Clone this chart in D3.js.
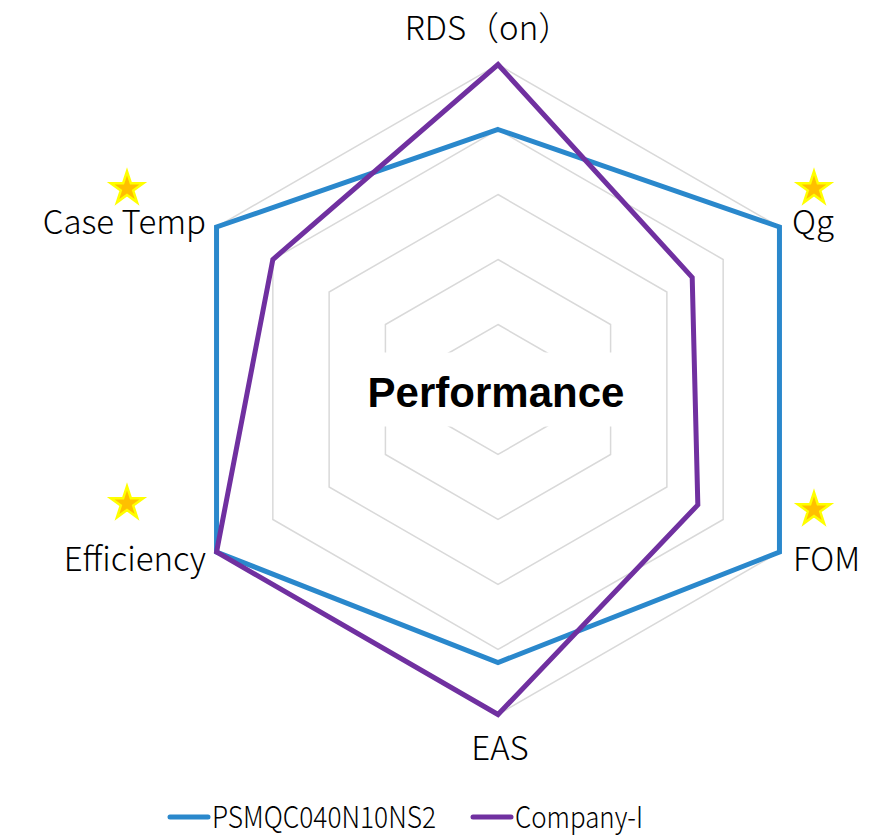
<!DOCTYPE html>
<html>
<head>
<meta charset="utf-8">
<script src="https://cdn.jsdelivr.net/npm/d3@7"></script>
<style>
  body { margin: 0; background: #fff; }
  svg { display: block; }
  .axis-label { font-family: "Noto Sans CJK SC", "Noto Sans", sans-serif; font-weight: 300; font-size: 33px; fill: #000; }
  .legend-label { font-family: "Noto Sans CJK SC", "Noto Sans", sans-serif; font-weight: 300; font-size: 30px; fill: #000; }
  .title { font-family: "Liberation Sans", Arial, sans-serif; font-weight: bold; font-size: 42px; fill: #000; }
</style>
</head>
<body>
<div id="chart"></div>
<script>
// axes, clockwise from the top
const axes = ['RDS（on）', 'Qg', 'FOM', 'EAS', 'Efficiency', 'Case Temp'];
const starred = ['Qg', 'FOM', 'Efficiency', 'Case Temp'];
const seriesNames = ['PSMQC040N10NS2', 'Company-I'];
const psmValues = [0.8, 1, 1, 0.84, 1, 1];
const companyValues = [1, 0.69, 0.71, 1, 1, 0.8];
const gridLevels = [0.2, 0.4, 0.6, 0.8, 1];
const colors = ['#2A88CC', '#7030A0'];

const width = 886, height = 838;
const cx = 498, cy = 389.5, radius = 325;

const svg = d3.select('#chart').append('svg')
  .attr('width', width)
  .attr('height', height);

const r = d3.scaleLinear().domain([0, 1]).range([0, radius]);
const angle = d3.scaleLinear().domain([0, axes.length]).range([0, 2 * Math.PI]);

const g = svg.append('g').attr('transform', `translate(${cx},${cy})`);

const radialLine = d3.lineRadial()
  .angle((d, i) => angle(i))
  .radius(d => r(d))
  .curve(d3.curveLinearClosed);

// grid hexagons
g.append('g').attr('class', 'grid')
  .selectAll('path')
  .data(gridLevels)
  .join('path')
  .attr('d', lv => radialLine(axes.map(() => lv)))
  .attr('fill', 'none')
  .attr('stroke', '#D9D9D9')
  .attr('stroke-width', 1.5);

// title box in the middle
g.append('rect')
  .attr('x', -136).attr('y', -37)
  .attr('width', 268).attr('height', 74)
  .attr('fill', '#fff');
g.append('text')
  .attr('class', 'title')
  .attr('x', -2).attr('y', 17)
  .attr('text-anchor', 'middle')
  .text('Performance');

// series
const series = [psmValues, companyValues];
g.append('g').attr('class', 'series')
  .selectAll('path')
  .data(series)
  .join('path')
  .attr('d', d => radialLine(d))
  .attr('fill', 'none')
  .attr('stroke', (d, i) => colors[i])
  .attr('stroke-width', 5)
  .attr('stroke-linejoin', 'miter');

// axis labels
const labelPos = {
  'RDS（on）': { x: -10, y: -350, anchor: 'middle' },
  'Qg': { x: 294, y: -156, anchor: 'start' },
  'FOM': { x: 295, y: 181, anchor: 'start' },
  'EAS': { x: 2, y: 370, anchor: 'middle' },
  'Efficiency': { x: -292, y: 181, anchor: 'end' },
  'Case Temp': { x: -292, y: -156, anchor: 'end' }
};
g.append('g').attr('class', 'labels')
  .selectAll('text')
  .data(axes)
  .join('text')
  .attr('class', 'axis-label')
  .attr('x', d => labelPos[d].x)
  .attr('y', d => labelPos[d].y)
  .attr('text-anchor', d => labelPos[d].anchor)
  .text(d => d);

// stars
const starPos = {
  'Qg': [316, -201],
  'FOM': [316, 120],
  'Efficiency': [-371, 114],
  'Case Temp': [-371, -201]
};
const star = d3.symbol().type(d3.symbolStar).size(330);
g.append('g').attr('class', 'stars')
  .selectAll('path')
  .data(starred)
  .join('path')
  .attr('d', star)
  .attr('transform', d => `translate(${starPos[d][0]},${starPos[d][1]})`)
  .attr('fill', '#FFC000')
  .attr('stroke', '#FFFF00')
  .attr('stroke-width', 2.5);

// legend
const legend = svg.append('g').attr('class', 'legend')
  .attr('transform', 'translate(0,817)');
const legendX = [168, 471];
const legendW = [224, 128];
const items = legend.selectAll('g')
  .data(seriesNames)
  .join('g')
  .attr('transform', (d, i) => `translate(${legendX[i]},0)`);
items.append('line')
  .attr('x1', 2).attr('x2', 40)
  .attr('y1', 0).attr('y2', 0)
  .attr('stroke', (d, i) => colors[i])
  .attr('stroke-width', 5)
  .attr('stroke-linecap', 'round');
items.append('text')
  .attr('class', 'legend-label')
  .attr('x', 44).attr('y', 11)
  .attr('textLength', (d, i) => legendW[i])
  .attr('lengthAdjust', 'spacingAndGlyphs')
  .text(d => d);
</script>
</body>
</html>
